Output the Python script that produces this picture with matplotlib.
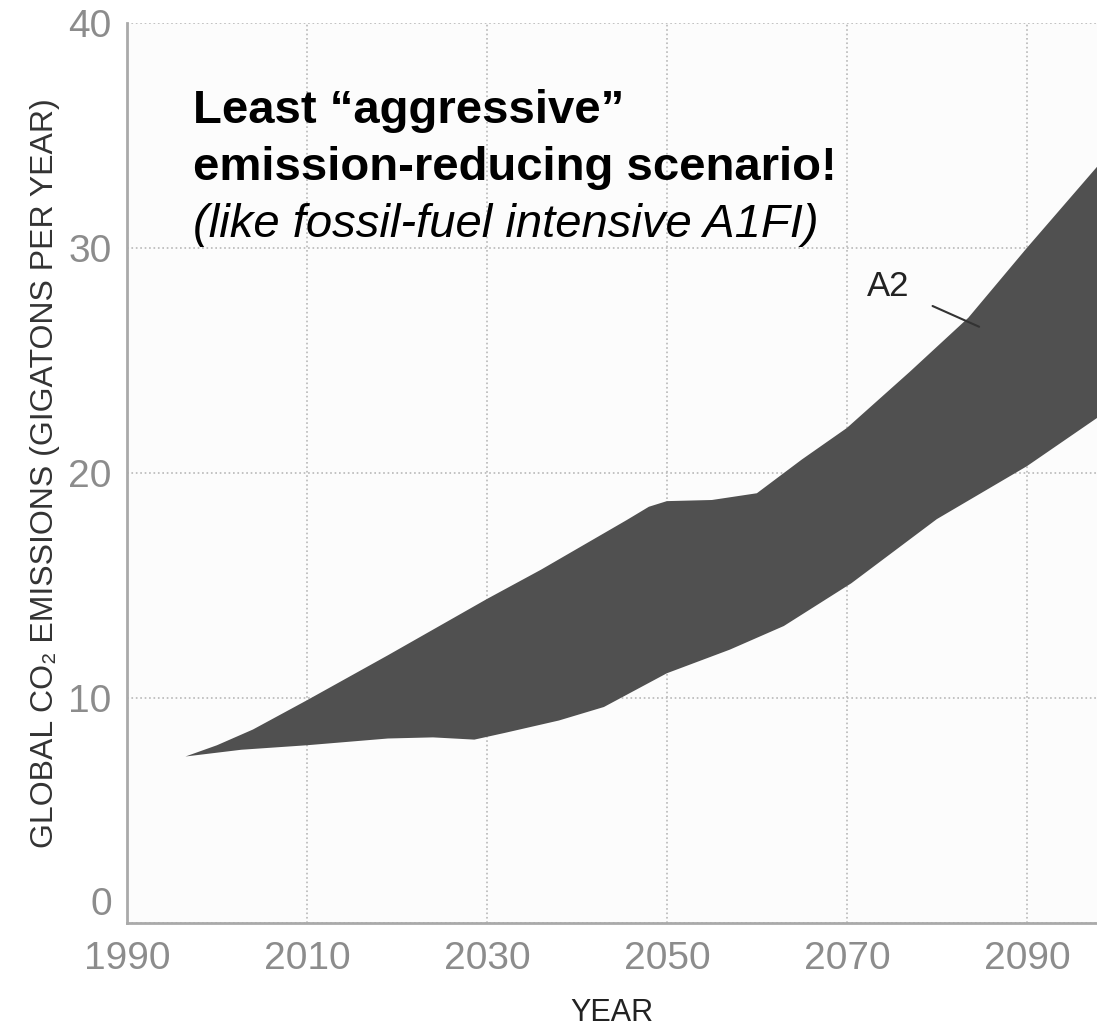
import matplotlib
matplotlib.use('Agg')
import matplotlib.pyplot as plt

# Banda del escenario A2 (Gt CO2 por año)
anios_sup = [1996.5, 2000, 2004, 2010, 2019, 2030, 2036, 2045.5, 2048, 2050,
             2055, 2060, 2065, 2070, 2077, 2083.5, 2090, 2098]
valores_sup = [7.4, 7.9, 8.6, 9.9, 11.9, 14.4, 15.7, 17.9, 18.5, 18.75,
               18.8, 19.1, 20.6, 22.0, 24.5, 26.9, 30.0, 33.7]

anios_inf = [1996.5, 2002.7, 2010, 2019, 2024, 2028.6, 2032, 2038, 2043,
             2050, 2057, 2063, 2070.5, 2080, 2090, 2098]
valores_inf = [7.4, 7.7, 7.9, 8.2, 8.25, 8.15, 8.45, 9.0, 9.6,
               11.1, 12.15, 13.2, 15.1, 17.95, 20.3, 22.5]

ticks_x = [1990, 2010, 2030, 2050, 2070, 2090]
ticks_y = [0, 10, 20, 30, 40]

fuente = 'Liberation Sans'

fig = plt.figure(figsize=(10.97, 10.28), dpi=100)
ax = fig.add_axes([127 / 1097, 1 - 923 / 1028, 1 - 127 / 1097, 900 / 1028])

# Polígono de la banda: borde superior y luego el inferior al revés
poli_x = anios_sup + anios_inf[::-1]
poli_y = valores_sup + valores_inf[::-1]
ax.fill(poli_x, poli_y, color='#505050', linewidth=0, zorder=2)

ax.set_xlim(1990.5, 2097.8)
ax.set_ylim(0, 40)
ax.set_xticks(ticks_x)
ax.set_yticks(ticks_y)
ax.grid(True, linestyle=':', color='#b8b8b8', linewidth=1.2, zorder=0)
ax.set_facecolor('#fcfcfc')

for lado in ['top', 'right']:
    ax.spines[lado].set_visible(False)
for lado in ['left', 'bottom']:
    ax.spines[lado].set_color('#aaaaaa')
    ax.spines[lado].set_linewidth(2)

ax.tick_params(length=0, labelcolor='#8c8c8c')
ax.tick_params(axis='x', pad=13)
ax.tick_params(axis='y', pad=11)
for etiqueta in ax.get_xticklabels() + ax.get_yticklabels():
    etiqueta.set_family(fuente)
    etiqueta.set_fontsize(28)
# el "0" queda encima de la línea base, como en el original
ax.get_yticklabels()[0].set_va('bottom')

ax.set_xlabel('YEAR', family=fuente, fontsize=22, color='#222222', va='center')
ax.xaxis.set_label_coords(0.5, -(1013 - 923) / 900)
ax.set_ylabel('GLOBAL CO\u2082 EMISSIONS (GIGATONS PER YEAR)', family=fuente,
              fontsize=23, color='#333333', va='center')
ax.yaxis.set_label_coords(-(127 - 45) / 970, 0.5)

# Etiqueta A2 con su línea
ax.annotate('A2', xy=(2084.7, 26.5), xytext=(2074.6, 28.3),
            family=fuente, fontsize=25, color='#222222',
            ha='center', va='center',
            arrowprops=dict(arrowstyle='-', color='#333333', lw=1.5,
                            shrinkA=16, shrinkB=0))

# Texto superpuesto
fig.text(193 / 1097, 1 - 123 / 1028, 'Least \u201caggressive\u201d',
         family=fuente, fontweight='bold', fontsize=34, va='baseline')
fig.text(193 / 1097, 1 - 180 / 1028, 'emission-reducing scenario!',
         family=fuente, fontweight='bold', fontsize=34, va='baseline')
fig.text(193 / 1097, 1 - 237 / 1028, '(like fossil-fuel intensive A1FI)',
         family=fuente, fontstyle='italic', fontsize=34, va='baseline')

fig.savefig('out.png', dpi=100)
